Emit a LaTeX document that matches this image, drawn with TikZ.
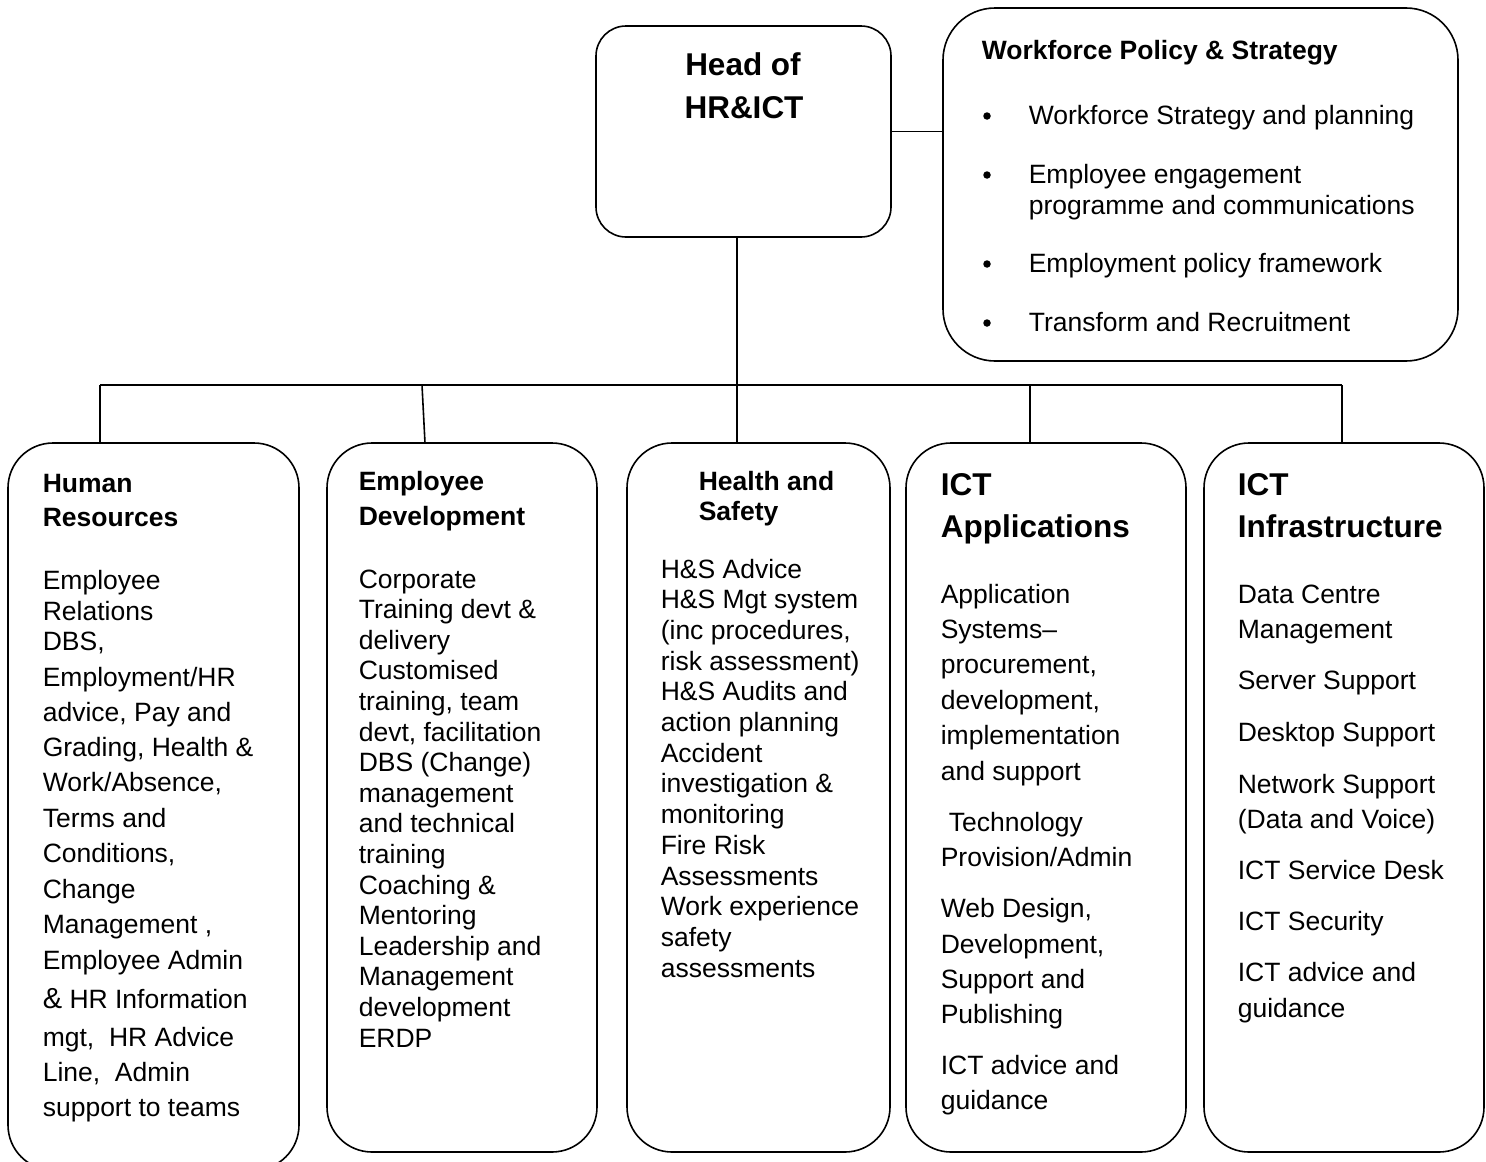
\documentclass[tikz,border=0pt]{standalone}
\usepackage{fontspec}
\setmainfont{Liberation Sans}
\begin{document}
\begin{tikzpicture}[x=1pt,y=-1pt,line width=1.6pt,
  box/.style={draw,inner sep=0pt,outer sep=0pt,anchor=north west},
  bodytxt/.style={font=\fontsize{26.5}{30}\selectfont,inner sep=0pt,anchor=base west},
  ttl/.style={font=\fontsize{26.5}{30}\bfseries\selectfont,inner sep=0pt,anchor=base west},
  bigttl/.style={font=\fontsize{31.5}{36}\bfseries\selectfont,inner sep=0pt,anchor=base west},
  dot/.style={circle,fill,inner sep=0pt,minimum size=7.5pt}]
\path[use as bounding box,clip] (0,0) rectangle (1486,1162);
\fill[white] (0,0) rectangle (1486,1162);

% boxes
\node[box,rounded corners=30pt,minimum width=295pt,minimum height=211pt] (head) at (596,26) {};
\node[box,rounded corners=52pt,minimum width=515pt,minimum height=353pt] (wf) at (943,8) {};
\node[box,rounded corners=45pt,minimum width=291pt,minimum height=727pt] (hr) at (8,443) {};
\node[box,rounded corners=45pt,minimum width=270pt,minimum height=709pt] (ed) at (327,443) {};
\node[box,rounded corners=45pt,minimum width=263pt,minimum height=709pt] (hs) at (627,443) {};
\node[box,rounded corners=45pt,minimum width=280pt,minimum height=709pt] (ica) at (906,443) {};
\node[box,rounded corners=45pt,minimum width=280pt,minimum height=709pt] (ici) at (1204,443) {};

% connectors
\coordinate (busL) at (100,385);
\coordinate (busR) at (1342,385);
\coordinate (busE) at (422,385);
\coordinate (edTop) at (425,443);
\coordinate (busC) at (737,385);
\coordinate (busA) at (1030,385);
\draw (head.east) -- (head.east -| wf.west);
\draw (busC |- head.south) -- (busC);
\draw (busL) -- (busR);
\draw (busL) -- (busL |- hr.north);
\draw (busE) -- (edTop);
\draw (busC) -- (busC |- hs.north);
\draw (busA) -- (busA |- ica.north);
\draw (busR) -- (busR |- ici.north);

% head
\node[bigttl,anchor=base] (headA) at (743,75) {Head of};
\node[bigttl,anchor=base] (headB) at (744,118) {HR\&ICT};

% workforce
\node[ttl] (wfT) at (981,59) {Workforce Policy \& Strategy};
\foreach \ypos/\mytext [count=\i] in {124/Workforce Strategy and planning,183/Employee engagement,214/programme and communications,272/Employment policy framework,331/Transform and Recruitment}
  \node[bodytxt] (wf\i) at (1028,\ypos) {\mytext};
\foreach \ypos [count=\i] in {116,175,264,323}
  \node[dot] (bul\i) at (987,\ypos) {};

% human resources
\node[ttl] (hrT1) at (42,492) {Human};
\node[ttl] (hrT2) at (42,526) {Resources};
\foreach \ypos/\mytext [count=\i] in {589/Employee,620/Relations,650/{DBS,},686/{Employment/HR},721/{advice, Pay and},756/{Grading, Health \&},791/{Work/Absence,},827/Terms and,862/{Conditions,},898/Change,933/{Management ,},969/Employee Admin,1008/{{\fontsize{29}{30}\selectfont\&} HR Information},1046/{mgt,\ \ HR Advice},1081/{Line,\ \ Admin},1116/support to teams}
  \node[bodytxt] (hr\i) at (42,\ypos) {\mytext};

% employee development
\node[ttl] (edT1) at (358,490) {Employee};
\node[ttl] (edT2) at (358,525) {Development};
\foreach \mytext [count=\i from 0] in {Corporate,Training devt \&,delivery,Customised,{training, team},{devt, facilitation},DBS (Change),management,and technical,training,Coaching \&,Mentoring,Leadership and,Management,development,ERDP}
  \node[bodytxt] (ed\i) at (358,588+30.6*\i) {\mytext};

% health and safety
\node[ttl] (hsT1) at (698,490) {Health and};
\node[ttl] (hsT2) at (698,520) {Safety};
\foreach \mytext [count=\i from 0] in {H\&S Advice,H\&S Mgt system,{(inc procedures,},risk assessment),H\&S Audits and,action planning,Accident,investigation \&,monitoring,Fire Risk,Assessments,Work experience,safety,assessments}
  \node[bodytxt] (hs\i) at (660,578+30.7*\i) {\mytext};

% ICT applications
\node[bigttl] (icaT1) at (940,495) {ICT};
\node[bigttl] (icaT2) at (940,537) {Applications};
\foreach \ypos/\mytext [count=\i] in {603/Application,638/Systems–,673/{procurement,},709/{development,},744/implementation,780/and support,866/{Provision/Admin},917/{Web Design,},953/{Development,},988/Support and,1023/Publishing,1074/ICT advice and,1109/guidance}
  \node[bodytxt] (ica\i) at (940,\ypos) {\mytext};
\node[bodytxt] (icaTech) at (948,831) {Technology};

% ICT infrastructure
\node[bigttl] (iciT1) at (1237,495) {ICT};
\node[bigttl] (iciT2) at (1237,537) {Infrastructure};
\foreach \ypos/\mytext [count=\i] in {603/Data Centre,638/Management,689/Server Support,741/Desktop Support,793/Network Support,828/(Data and Voice),879/ICT Service Desk,930/ICT Security,981/ICT advice and,1017/guidance}
  \node[bodytxt] (ici\i) at (1237,\ypos) {\mytext};
\end{tikzpicture}
\end{document}
